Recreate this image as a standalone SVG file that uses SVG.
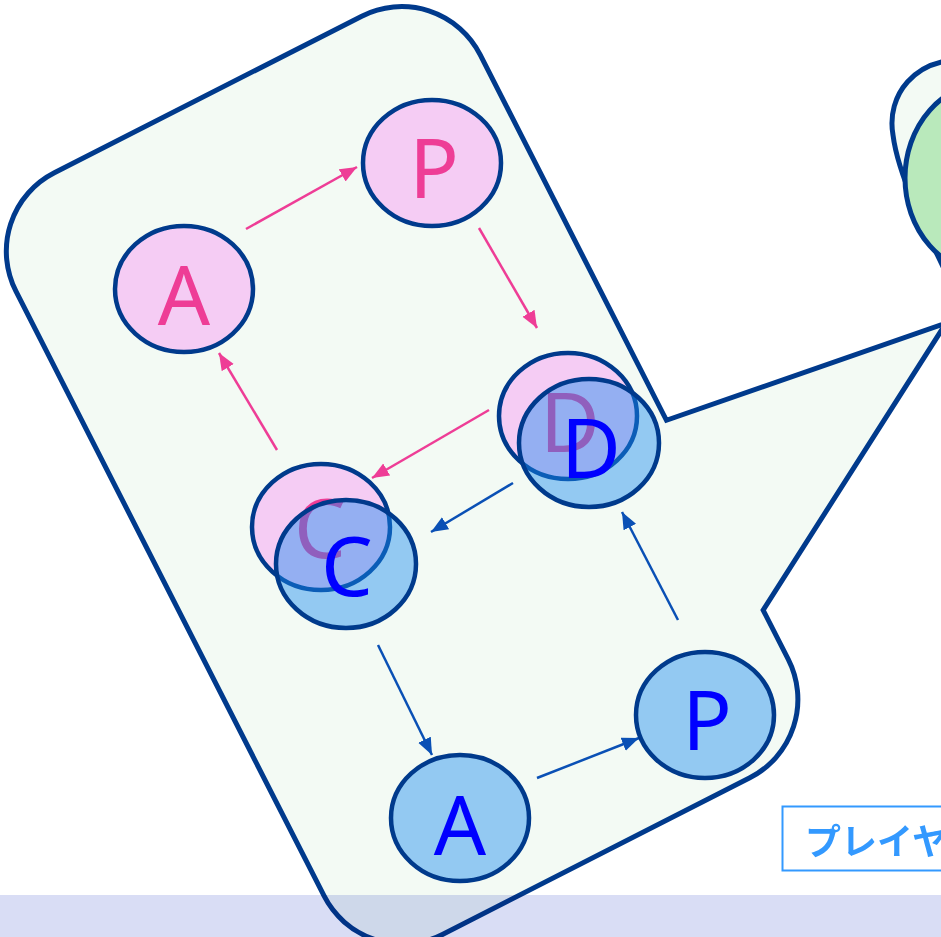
<svg xmlns="http://www.w3.org/2000/svg" width="941" height="937" viewBox="0 0 941 937">
<defs>
<style>
.callout{fill:#f3faf4;stroke:#003a8c;stroke-width:5;stroke-linejoin:miter}
.pn{fill:#f5ccf4;stroke:#003a8c;stroke-width:4.5}
.bn{fill:rgb(24,140,240);fill-opacity:0.44;stroke:#003a8c;stroke-width:4.5}
.pt{fill:#ee3d96;font-family:"Noto Sans","Liberation Sans",sans-serif;font-size:82px;text-anchor:middle}
.bt{fill:#0000ff;font-family:"Noto Sans","Liberation Sans",sans-serif;font-size:82px;text-anchor:middle}
.pa{stroke:#ee3d96;stroke-width:2.5;fill:none;marker-end:url(#ap)}
.ba{stroke:#0a50b5;stroke-width:2.5;fill:none;marker-end:url(#ab)}
</style>
<marker id="ap" markerUnits="userSpaceOnUse" markerWidth="20" markerHeight="16" refX="17" refY="7" orient="auto"><path d="M0,0 L17,7 L0,14 Z" fill="#ee3d96"/></marker>
<marker id="ab" markerUnits="userSpaceOnUse" markerWidth="20" markerHeight="16" refX="17" refY="7" orient="auto"><path d="M0,0 L17,7 L0,14 Z" fill="#0a50b5"/></marker>
</defs>
<rect width="941" height="937" fill="#ffffff"/>
<g id="callout-right">
<path class="callout" d="M965,60 C915,58 886,95 893,135 C898,175 925,230 952,285 L965,285 Z"/>
<ellipse cx="990" cy="178" rx="85" ry="96" fill="#b9e9bb" stroke="#003a8c" stroke-width="5"/>
</g>
<g id="callout">
<path class="callout" transform="translate(402.1,475.3) rotate(-27)" d="M-172.5,-427.4 L172.5,-427.4 A88,88 0 0 1 260.5,-339.4 L260.5,71 L553.8,111.3 L260.5,284 L260.5,339.4 A88,88 0 0 1 172.5,427.4 L-172.5,427.4 A88,88 0 0 1 -260.5,339.4 L-260.5,-339.4 A88,88 0 0 1 -172.5,-427.4 Z"/>
</g>
<g id="connectors">
<line class="pa" x1="246" y1="229" x2="357" y2="167"/>
<line class="pa" x1="479" y1="228" x2="537" y2="328"/>
<line class="pa" x1="489" y1="410" x2="372" y2="478"/>
<line class="pa" x1="277" y1="450" x2="219" y2="353"/>
<line class="ba" x1="513" y1="483" x2="431" y2="532"/>
<line class="ba" x1="378" y1="645" x2="432" y2="755"/>
<line class="ba" x1="537" y1="778" x2="639" y2="738"/>
<line class="ba" x1="678" y1="620" x2="622" y2="512"/>
</g>
<g id="pink-A"><ellipse class="pn" cx="184" cy="289" rx="69" ry="63"/><text class="pt" x="184" y="325">A</text></g>
<g id="pink-P"><ellipse class="pn" cx="432" cy="163" rx="69" ry="63"/><text class="pt" x="434" y="198">P</text></g>
<g id="pink-D"><ellipse class="pn" cx="568" cy="416" rx="69" ry="63"/><text class="pt" x="570" y="452">D</text></g>
<g id="pink-C"><ellipse class="pn" cx="321" cy="527" rx="69" ry="63"/><text class="pt" x="320" y="558">C</text></g>
<g id="blue-D"><ellipse class="bn" cx="589" cy="443" rx="70" ry="64"/><text class="bt" x="591" y="478">D</text></g>
<g id="blue-C"><ellipse class="bn" cx="346" cy="564" rx="70" ry="64"/><text class="bt" x="347" y="596">C</text></g>
<g id="blue-A"><ellipse class="bn" cx="460" cy="818" rx="69" ry="63"/><text class="bt" x="460" y="855">A</text></g>
<g id="blue-P"><ellipse class="bn" cx="705" cy="715" rx="69" ry="63"/><text class="bt" x="707" y="750">P</text></g>
<g id="label">
<rect x="782.5" y="806.5" width="200" height="64" fill="#ffffff" stroke="#3399ff" stroke-width="2"/>
<text x="805" y="855" fill="#3399ff" font-family="'Noto Sans CJK JP',sans-serif" font-weight="bold" font-size="36">プレイヤ</text>
</g>
<rect id="band" x="0" y="895" width="941" height="42" fill="#d9ddf5" style="mix-blend-mode:multiply"/>
</svg>
